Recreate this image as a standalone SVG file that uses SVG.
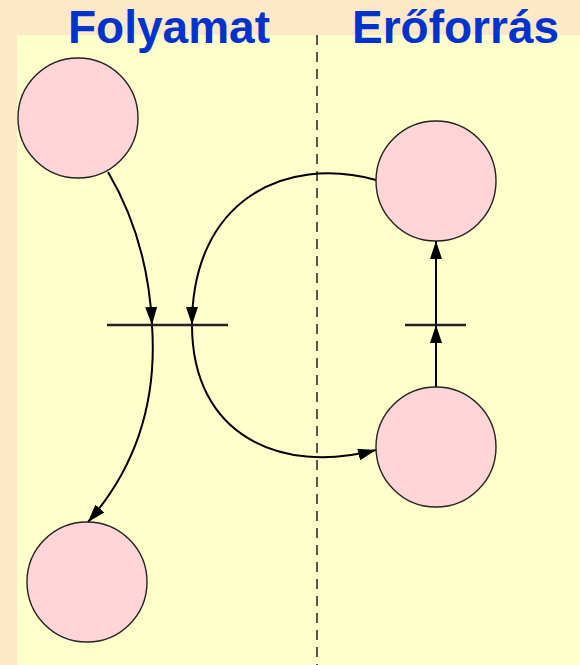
<svg xmlns="http://www.w3.org/2000/svg" width="580" height="665" viewBox="0 0 580 665">
<defs>
<style>
.title{font-family:"Liberation Sans",Arial,sans-serif;font-weight:bold;font-size:46px;fill:#0033CC}
.node{fill:#FFD5D8;stroke:#222;stroke-width:1.4}
.arc{fill:none;stroke:#000;stroke-width:2}
.bar{stroke:#222;stroke-width:2.5}
</style>
<marker id="ah2" viewBox="0 0 18 12" refX="18" refY="6" markerWidth="18" markerHeight="12" markerUnits="userSpaceOnUse" orient="auto">
<path d="M0,0 L18,6 L0,12 Z" fill="#000"/>
</marker>
</defs>
<rect x="0" y="0" width="580" height="665" fill="#FDE9C8"/>
<rect x="17" y="35" width="563" height="630" fill="#FFFFCC"/>
<text class="title" x="68" y="43">Folyamat</text>
<text class="title" x="352" y="43">Erőforrás</text>
<line x1="317" y1="35" x2="317" y2="665" stroke="#111" stroke-width="1.4" stroke-dasharray="10,7"/>
<g id="connectors">
<path class="arc" d="M108,172 Q148,240 152,325" marker-end="url(#ah2)"/>
<path class="arc" d="M152,325 Q160,440 88,522" marker-end="url(#ah2)"/>
<path class="arc" d="M376,180 C285,155 192,200 192,325" marker-end="url(#ah2)"/>
<path class="arc" d="M192,325 C192,435 280,475 376,450" marker-end="url(#ah2)"/>
<path class="arc" d="M436,387 L436,325" marker-end="url(#ah2)"/>
<path class="arc" d="M436,325 L436,241" marker-end="url(#ah2)"/>
</g>
<g id="t1"><line class="bar" x1="107" y1="325" x2="228" y2="325"/></g>
<g id="t2"><line class="bar" x1="405" y1="325" x2="466" y2="325"/></g>
<g id="p1"><circle class="node" cx="78" cy="118" r="60"/></g>
<g id="r1"><circle class="node" cx="436" cy="181" r="60"/></g>
<g id="r2"><circle class="node" cx="436" cy="447" r="60"/></g>
<g id="p2"><circle class="node" cx="87" cy="582" r="60"/></g>
</svg>
